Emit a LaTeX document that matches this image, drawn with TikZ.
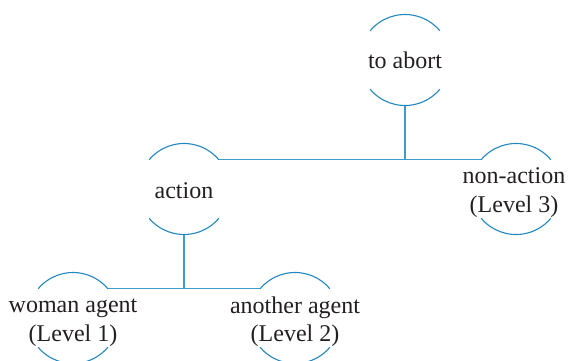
\documentclass[tikz,border=0pt]{standalone}
\usepackage{fontspec}
\setmainfont{Liberation Serif}
\definecolor{arcblue}{RGB}{32,136,190}
\definecolor{lineblue}{RGB}{60,155,200}
\definecolor{txt}{RGB}{35,31,32}
\begin{document}
\begin{tikzpicture}[x=1pt,y=1pt,
  ring/.style={circle,minimum size=91pt,inner sep=0pt,outer sep=0pt,draw=none},
  lbl/.style={anchor=base,align=center,text=txt,inner sep=0pt,font=\fontsize{24}{28.5}\selectfont},
  arcline/.style={draw=arcblue,line width=1.1pt},
  link/.style={draw=lineblue,line width=1.1pt}]
\useasboundingbox (0,0) rectangle (569,360);
% circles (centres in image coordinates, y flipped)
\node[ring] (c0) at (405,300) {};
\node[ring] (c1) at (184,171) {};
\node[ring] (c2) at (516,171) {};
\node[ring] (c3) at (73,42) {};
\node[ring] (c4) at (295,42) {};
% arcs
\foreach \c in {c0,c1,c2,c3,c4}{
  \draw[arcline] (\c.140) arc[start angle=140,end angle=40,radius=45.5pt];
  \draw[arcline] (\c.220) arc[start angle=220,end angle=320,radius=45.5pt];
}
% texts
\node[lbl] (t0) at (405,292) {to abort};
\node[lbl] (t1) at (184,162) {action};
\node[lbl] (t2) at (514,148) {non-action\\(Level 3)};
\node[lbl] (t3) at (73,19) {woman agent\\(Level 1)};
\node[lbl] (t4) at (295,18.5) {another agent\\(Level 2)};
% connectors
\draw[link] (c1.40) -- (c2.140);
\draw[link] (c0.south) -- (c0.south |- c1.40);
\draw[link] (c3.40) -- (c4.140);
\draw[link] (c1.south) -- (c1.south |- c3.40);
\end{tikzpicture}
\end{document}
